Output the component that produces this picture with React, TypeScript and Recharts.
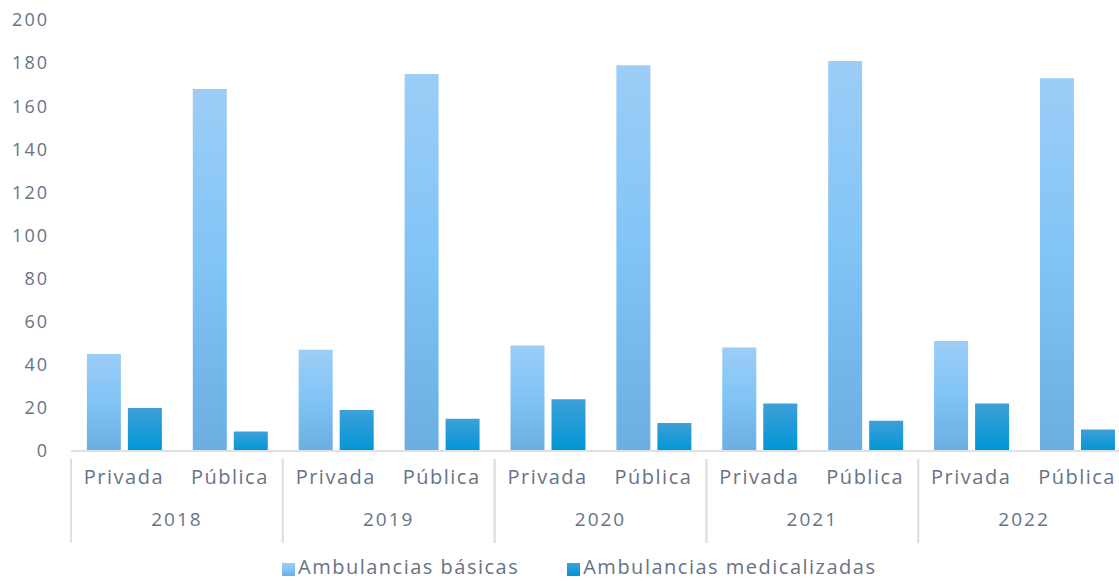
import { BarChart, Bar, XAxis, YAxis, Legend } from 'recharts';

const years = ['2018', '2019', '2020', '2021', '2022'];
const sectors = ['Privada', 'Pública'];
const basicas = [45, 168, 47, 175, 49, 179, 48, 181, 51, 173];
const medicalizadas = [20, 9, 19, 15, 24, 13, 22, 14, 22, 10];
const yTicks = [0, 20, 40, 60, 80, 100, 120, 140, 160, 180, 200];

const TEXT = '#677386';
const LINE = '#dde1e7';
const FONT = '"Open Sans", "Noto Sans", sans-serif';

const rows = basicas.map((b, i) => ({
  key: `${years[Math.floor(i / 2)]}|${sectors[i % 2]}`,
  basicas: b,
  medicalizadas: medicalizadas[i],
}));

const BAND = 105.9;

function CategoryTick(props: any) {
  const { x, y, payload, index } = props;
  const [year, sector] = String(payload.value).split('|');
  const first = index % 2 === 0;
  return (
    <g>
      <text
        x={x}
        y={y + 25}
        textAnchor="middle"
        fill={TEXT}
        fontSize={20}
        fontFamily={FONT}
        letterSpacing={1.5}
      >
        {sector}
      </text>
      {first && (
        <>
          <text
            x={x + BAND / 2}
            y={y + 67}
            textAnchor="middle"
            fill={TEXT}
            fontSize={19}
            fontFamily={FONT}
            letterSpacing={2}
          >
            {year}
          </text>
          <line x1={x - BAND / 2} x2={x - BAND / 2} y1={y} y2={y + 84} stroke={LINE} strokeWidth={2} />
        </>
      )}
      {!first && (
        <line x1={x + BAND / 2} x2={x + BAND / 2} y1={y} y2={y + 84} stroke={LINE} strokeWidth={2} />
      )}
    </g>
  );
}

function LegendContent() {
  const items = ['Ambulancias básicas', 'Ambulancias medicalizadas'];
  return (
    <div style={{ display: 'flex', gap: 48, fontFamily: FONT, color: TEXT, fontSize: 20, letterSpacing: 1.5, lineHeight: '28px' }}>
      {items.map((label, i) => (
        <div key={i} style={{ display: 'flex', alignItems: 'center' }}>
          <span
            style={{
              display: 'inline-block',
              width: 13,
              height: 13,
              marginRight: 3,
              marginTop: 4,
              background:
                i === 0
                  ? 'linear-gradient(#9ccdf6, #80c4f6, #6aaee2)'
                  : 'linear-gradient(#3ea0d8, #0096d6)',
            }}
          />
          <span>{label}</span>
        </div>
      ))}
    </div>
  );
}

export default function App() {
  return (
    <div style={{ position: 'absolute', left: 0, top: 0, width: 1119, height: 581, overflow: 'hidden', background: '#fff' }}>
      <BarChart
        width={1140}
        height={581}
        data={rows}
        margin={{ top: 20, right: 10, bottom: 0, left: 0 }}
        barCategoryGap="15%"
        barGap={7}
      >
        <defs>
          <linearGradient id="gradBasicas" x1="0" y1="0" x2="0" y2="1">
            <stop offset="0%" stopColor="#9ccdf6" />
            <stop offset="50%" stopColor="#80c4f6" />
            <stop offset="100%" stopColor="#6aaee2" />
          </linearGradient>
          <linearGradient id="gradMedic" x1="0" y1="0" x2="0" y2="1">
            <stop offset="0%" stopColor="#3ea0d8" />
            <stop offset="100%" stopColor="#0096d6" />
          </linearGradient>
        </defs>
        <XAxis
          dataKey="key"
          interval={0}
          height={102}
          tickLine={false}
          axisLine={{ stroke: LINE, strokeWidth: 2 }}
          tick={<CategoryTick />}
        />
        <YAxis
          width={71}
          domain={[0, 200]}
          ticks={yTicks}
          tickLine={false}
          axisLine={false}
          tickSize={0}
          tickMargin={22}
          tick={{ fill: TEXT, fontSize: 18, fontFamily: FONT, letterSpacing: 2 }}
        />
        <Legend
          verticalAlign="bottom"
          content={<LegendContent />}
          wrapperStyle={{ left: 282, bottom: 0, width: 'auto' }}
        />
        <Bar dataKey="basicas" name="Ambulancias básicas" fill="url(#gradBasicas)" isAnimationActive={false} />
        <Bar dataKey="medicalizadas" name="Ambulancias medicalizadas" fill="url(#gradMedic)" isAnimationActive={false} />
      </BarChart>
    </div>
  );
}
